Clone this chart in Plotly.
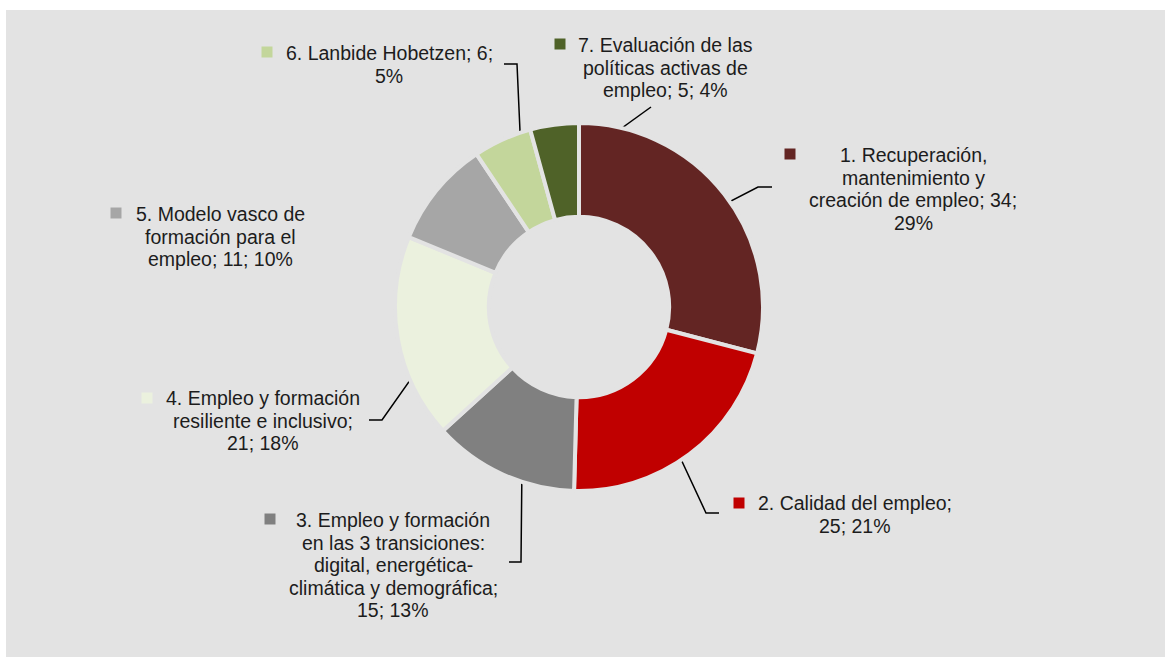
import math
import plotly.graph_objects as go

# Slice data (clockwise from 12 o'clock)
labels = [
    "1. Recuperación,<br>mantenimiento y<br>creación de empleo; {v};<br>{p}%",
    "2. Calidad del empleo;<br>{v}; {p}%",
    "3. Empleo y formación<br>en las 3 transiciones:<br>digital, energética-<br>climática y demográfica;<br>{v}; {p}%",
    "4. Empleo y formación<br>resiliente e inclusivo;<br>{v}; {p}%",
    "5. Modelo vasco de<br>formación para el<br>empleo; {v}; {p}%",
    "6. Lanbide Hobetzen; {v};<br>{p}%",
    "7. Evaluación de las<br>políticas activas de<br>empleo; {v}; {p}%",
]
values = [34, 25, 15, 21, 11, 6, 5]
percents = [29, 21, 13, 18, 10, 5, 4]
colours = ['#632523', '#C00000', '#808080', '#EBF1DE', '#A6A6A6', '#C3D69B', '#4F6228']

# Layout of the labels, in window pixels (x center of text, y of first line, key square)
W, H = 1165, 657
BG = '#E3E3E3'
CX, CY, R, HOLE = 579, 307, 184, 0.49
text_x = [913, 855, 393, 263, 220, 389, 665]
text_y = [155, 503, 520, 398, 214, 53, 45]
key_pos = [(790, 154), (739, 503), (270, 519), (147, 398), (116, 213), (267, 52), (560, 44)]
# leader line elbow / end points (None = no leader line)
leader_pts = [
    [(758, 187), (772, 187)],
    [(706, 513), (719, 513)],
    [(521, 562), (509, 562)],
    [(382, 420), (369, 420)],
    None,
    [(517, 64), (504, 64)],
    [(651, 107)],
]
FONT = dict(family='Liberation Sans, Arial, sans-serif', size=19.5, color='#1c1c1c')
LINE_H = 22.6

fig = go.Figure()

fig.add_trace(go.Pie(
    values=values,
    marker=dict(colors=colours, line=dict(color=BG, width=4)),
    hole=HOLE, sort=False, direction='clockwise', rotation=0,
    textinfo='none', hoverinfo='value+percent', showlegend=False,
    domain=dict(x=[(CX - R) / W, (CX + R) / W],
                y=[1 - (CY + R) / H, 1 - (CY - R) / H]),
))

# leader lines from the middle of each slice
total = sum(values)
r_mid = R * (1 + HOLE) / 2 - 1
cum = 0
for i, v in enumerate(values):
    ang = math.radians((cum + v / 2) / total * 360)
    cum += v
    if leader_pts[i] is None:
        continue
    xs = [CX + r_mid * math.sin(ang)] + [p[0] for p in leader_pts[i]]
    ys = [CY - r_mid * math.cos(ang)] + [p[1] for p in leader_pts[i]]
    fig.add_trace(go.Scatter(x=xs, y=ys, mode='lines', line=dict(color='black', width=1.5),
                             hoverinfo='skip', showlegend=False))

# key squares
fig.add_trace(go.Scatter(x=[p[0] for p in key_pos], y=[p[1] for p in key_pos], mode='markers',
                         marker=dict(symbol='square', size=11, color=colours, line=dict(width=0)),
                         hoverinfo='skip', showlegend=False))

# label text, one annotation per line to keep the tight line spacing
for i, lab in enumerate(labels):
    lines = lab.format(v=values[i], p=percents[i]).split('<br>')
    for j, line in enumerate(lines):
        fig.add_annotation(x=text_x[i], y=text_y[i] + j * LINE_H, xref='x', yref='y',
                           text=line, showarrow=False, font=FONT,
                           xanchor='center', yanchor='middle')

# white strips along the top and left edges
fig.add_shape(type='rect', xref='x', yref='y', x0=0, x1=W, y0=0, y1=10,
              fillcolor='white', line=dict(width=0), layer='below')
fig.add_shape(type='rect', xref='x', yref='y', x0=0, x1=6, y0=0, y1=H,
              fillcolor='white', line=dict(width=0), layer='below')

fig.update_layout(
    width=W, height=H,
    margin=dict(l=0, r=0, t=0, b=0),
    paper_bgcolor=BG, plot_bgcolor='rgba(0,0,0,0)',
    xaxis=dict(range=[0, W], visible=False, fixedrange=True),
    yaxis=dict(range=[H, 0], visible=False, fixedrange=True),
    showlegend=False,
)

fig.write_html("out.html", config={'displayModeBar': False},
               post_script="document.body.style.margin='0';document.body.style.overflow='hidden';")
